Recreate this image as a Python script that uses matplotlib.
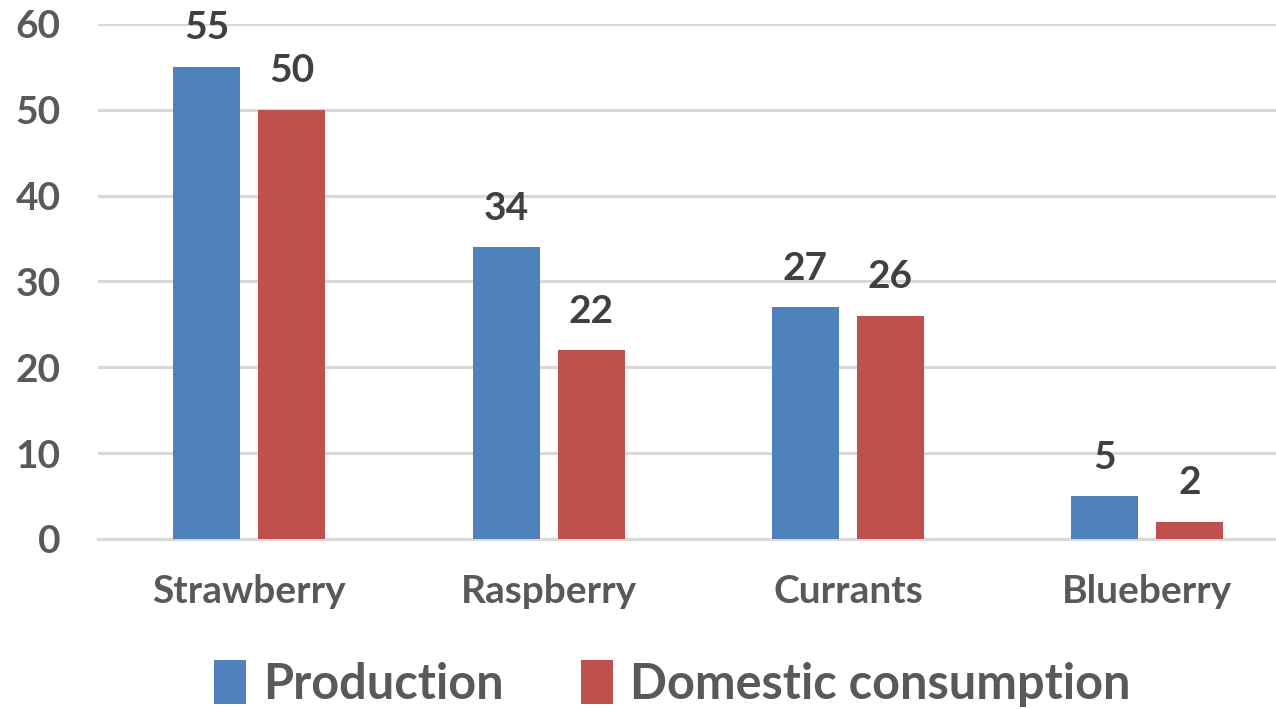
import matplotlib
matplotlib.use("Agg")
import matplotlib.pyplot as plt
import numpy as np

plt.rcParams['font.family'] = ['Lato', 'DejaVu Sans']
plt.rcParams['font.weight'] = 'bold'

# data
fruits = ['Strawberry', 'Raspberry', 'Currants', 'Blueberry']
production = [55, 34, 27, 5]
consumption = [50, 22, 26, 2]
series_names = ['Production', 'Domestic consumption']
colors = ['#4F81BD', '#C0504D']

fig = plt.figure(figsize=(12.76, 7.09), dpi=100)
ax = fig.add_axes([0.0768, 0.2398, 0.9232, 0.7264])

x = np.arange(len(fruits))
w = 0.224
off = 0.142

b1 = ax.bar(x - off, production, w, color=colors[0], label=series_names[0], zorder=3)
b2 = ax.bar(x + off, consumption, w, color=colors[1], label=series_names[1], zorder=3)

for bars, vals in [(b1, production), (b2, consumption)]:
    for b, v in zip(bars, vals):
        ax.text(b.get_x() + b.get_width() / 2, v + 2.5, str(v), ha='center', va='bottom',
                fontsize=28, color='#404040', fontweight='bold')

ax.set_ylim(0, 60)
ax.set_xlim(-0.505, 3.43)
ax.set_yticks(range(0, 61, 10))
ax.yaxis.grid(True, color='#D9D9D9', linewidth=2.2, zorder=0)
ax.axhline(0, color='#D9D9D9', linewidth=2.2, zorder=1, clip_on=False)
ax.set_axisbelow(True)
for s in ax.spines.values():
    s.set_visible(False)
ax.tick_params(axis='both', length=0, labelsize=28, labelcolor='#595959')
ax.tick_params(axis='y', pad=27)
ax.tick_params(axis='x', pad=25)
ax.set_xticks(x)
ax.set_xticklabels(fruits)

leg = fig.legend(loc='center', bbox_to_anchor=(0.527, 0.036), ncol=2, frameon=False,
                 fontsize=35, handlelength=0.65, handleheight=1.0, handletextpad=0.35,
                 columnspacing=1.6, labelcolor='#595959')

fig.savefig('out.png', dpi=100)
